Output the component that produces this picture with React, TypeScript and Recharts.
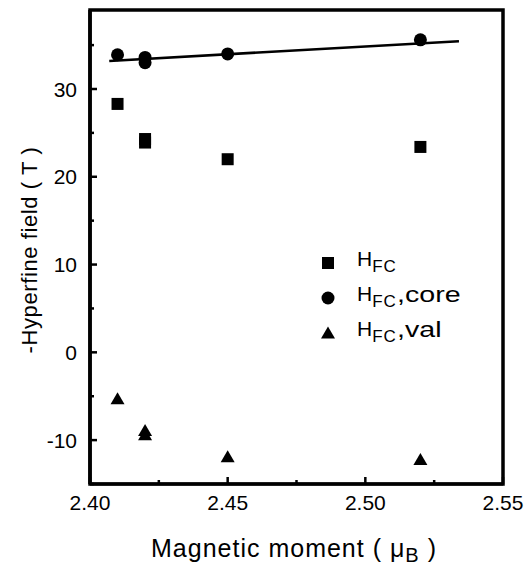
import React from "react";
import {
  ComposedChart,
  Scatter,
  XAxis,
  YAxis,
  ReferenceArea,
  Legend,
} from "recharts";

// magnetic moment (mu_B) for each calculated point
const moments = [2.41, 2.42, 2.42, 2.45, 2.52];
// -hyperfine field components (T)
const hfcTotal = [28.3, 24.3, 23.9, 22.0, 23.4];
const hfcCore = [33.9, 33.6, 33.0, 34.0, 35.6];
const hfcVal = [-5.3, -8.9, -9.4, -11.9, -12.2];
// linear fit through the core contribution
const fitX = [2.407, 2.534];
const fitY = [33.2, 35.45];

const xTicks = [2.4, 2.425, 2.45, 2.475, 2.5, 2.525, 2.55];
const xLabels = ["2.40", "", "2.45", "", "2.50", "", "2.55"];
const yTicks = [-15, -10, -5, 0, 5, 10, 15, 20, 25, 30, 35];
const yLabels = ["", "-10", "", "0", "", "10", "", "20", "", "30", ""];
const legendSuffix = ["", ",core", ",val"];

const FONT = '"Liberation Sans", Arial, Helvetica, sans-serif';

const toPoints = (xs: number[], ys: number[]) =>
  xs.map((x, i) => ({ x, y: ys[i] }));

const totalData = toPoints(moments, hfcTotal);
const coreData = toPoints(moments, hfcCore);
const valData = toPoints(moments, hfcVal);
const fitData = toPoints(fitX, fitY);

const SquareDot = ({ cx, cy }: any) => (
  <rect x={cx - 6} y={cy - 6} width={12} height={12} fill="#000" />
);
const CircleDot = ({ cx, cy }: any) => <circle cx={cx} cy={cy} r={6.5} fill="#000" />;
const TriangleDot = ({ cx, cy }: any) => (
  <polygon points={`${cx},${cy - 6.5} ${cx - 7},${cy + 5.5} ${cx + 7},${cy + 5.5}`} fill="#000" />
);
const NoDot = () => <g />;

const markers = [SquareDot, CircleDot, TriangleDot];

const XTick = ({ x, y, index }: any) => {
  const label = xLabels[index] ?? "";
  const len = label ? 7 : 4;
  return (
    <g>
      <line x1={x} y1={y} x2={x} y2={y - len} stroke="#000" strokeWidth={2.5} />
      {label && (
        <text x={x} y={y + 26} textAnchor="middle" fontSize={21} fontFamily={FONT} fill="#000">
          {label}
        </text>
      )}
    </g>
  );
};

const YTick = ({ x, y, index }: any) => {
  const label = yLabels[index] ?? "";
  const len = label ? 7 : 4;
  return (
    <g>
      <line x1={x} y1={y} x2={x + len} y2={y} stroke="#000" strokeWidth={2.5} />
      {label && (
        <text x={x - 13} y={y} dy="0.36em" textAnchor="end" fontSize={21} fontFamily={FONT} fill="#000">
          {label}
        </text>
      )}
    </g>
  );
};

const renderLegend = () => (
  <div style={{ fontFamily: FONT, fontSize: 21, color: "#000" }}>
    {legendSuffix.map((suffix, i) => {
      const Marker = markers[i];
      return (
        <div key={i} style={{ display: "flex", alignItems: "center", height: 35 }}>
          <svg width={20} height={20}>
            <Marker cx={10} cy={10} />
          </svg>
          <span style={{ marginLeft: 19, lineHeight: "20px", whiteSpace: "nowrap" }}>
            H
            <sub style={{ fontSize: 17, verticalAlign: "-6px", letterSpacing: 1 }}>FC</sub>
            <span
              style={{
                display: "inline-block",
                position: "relative",
                top: 1,
                fontSize: 22,
                transform: "scaleX(1.3)",
                transformOrigin: "left",
              }}
            >
              {suffix}
            </span>
          </span>
        </div>
      );
    })}
  </div>
);

export default function App() {
  return (
    <div style={{ position: "absolute", left: 0, top: 0, background: "#fff" }}>
      <ComposedChart
        width={527}
        height={569}
        margin={{ top: 10, right: 24, bottom: 0, left: 0 }}
      >
        <XAxis
          dataKey="x"
          type="number"
          domain={[2.4, 2.55]}
          ticks={xTicks}
          interval={0}
          allowDataOverflow
          height={85}
          tickSize={0}
          tickMargin={0}
          tickLine={false}
          tick={<XTick />}
          axisLine={{ stroke: "#000", strokeWidth: 3 }}
          label={{
            value: "",
            content: () => (
              <text
                x={294}
                y={557}
                textAnchor="middle"
                fontSize={25}
                letterSpacing={1}
                fontFamily={FONT}
                fill="#000"
              >
                Magnetic moment ( μ
                <tspan fontSize={20} dy={5}>B</tspan>
                <tspan dy={-5}> )</tspan>
              </text>
            ),
          }}
        />
        <YAxis
          dataKey="y"
          type="number"
          domain={[-15, 39]}
          ticks={yTicks}
          interval={0}
          allowDataOverflow
          width={90}
          tickSize={0}
          tickMargin={0}
          tickLine={false}
          tick={<YTick />}
          axisLine={{ stroke: "#000", strokeWidth: 3.5 }}
          label={{
            value: "",
            content: () => (
              <text
                x={37}
                y={250}
                transform="rotate(-90 37 250)"
                textAnchor="middle"
                fontSize={22}
                letterSpacing={0.6}
                fontFamily={FONT}
                fill="#000"
              >
                -Hyperfine field ( T )
              </text>
            ),
          }}
        />
        <ReferenceArea
          x1={2.4}
          x2={2.55}
          y1={-15}
          y2={39}
          fill="none"
          stroke="#000"
          strokeWidth={3.5}
        />
        <Scatter
          name="fit"
          data={fitData}
          dataKey="y"
          line={{ stroke: "#000", strokeWidth: 2.5 }}
          shape={NoDot}
          isAnimationActive={false}
          legendType="none"
        />
        <Scatter name="HFC" data={totalData} dataKey="y" shape={SquareDot} isAnimationActive={false} />
        <Scatter name="HFC,core" data={coreData} dataKey="y" shape={CircleDot} isAnimationActive={false} />
        <Scatter name="HFC,val" data={valData} dataKey="y" shape={TriangleDot} isAnimationActive={false} />
        <Legend
          layout="horizontal"
          verticalAlign="middle"
          align="center"
          content={renderLegend}
          wrapperStyle={{ position: "absolute", left: 318, top: 245, width: 200 }}
        />
      </ComposedChart>
    </div>
  );
}
